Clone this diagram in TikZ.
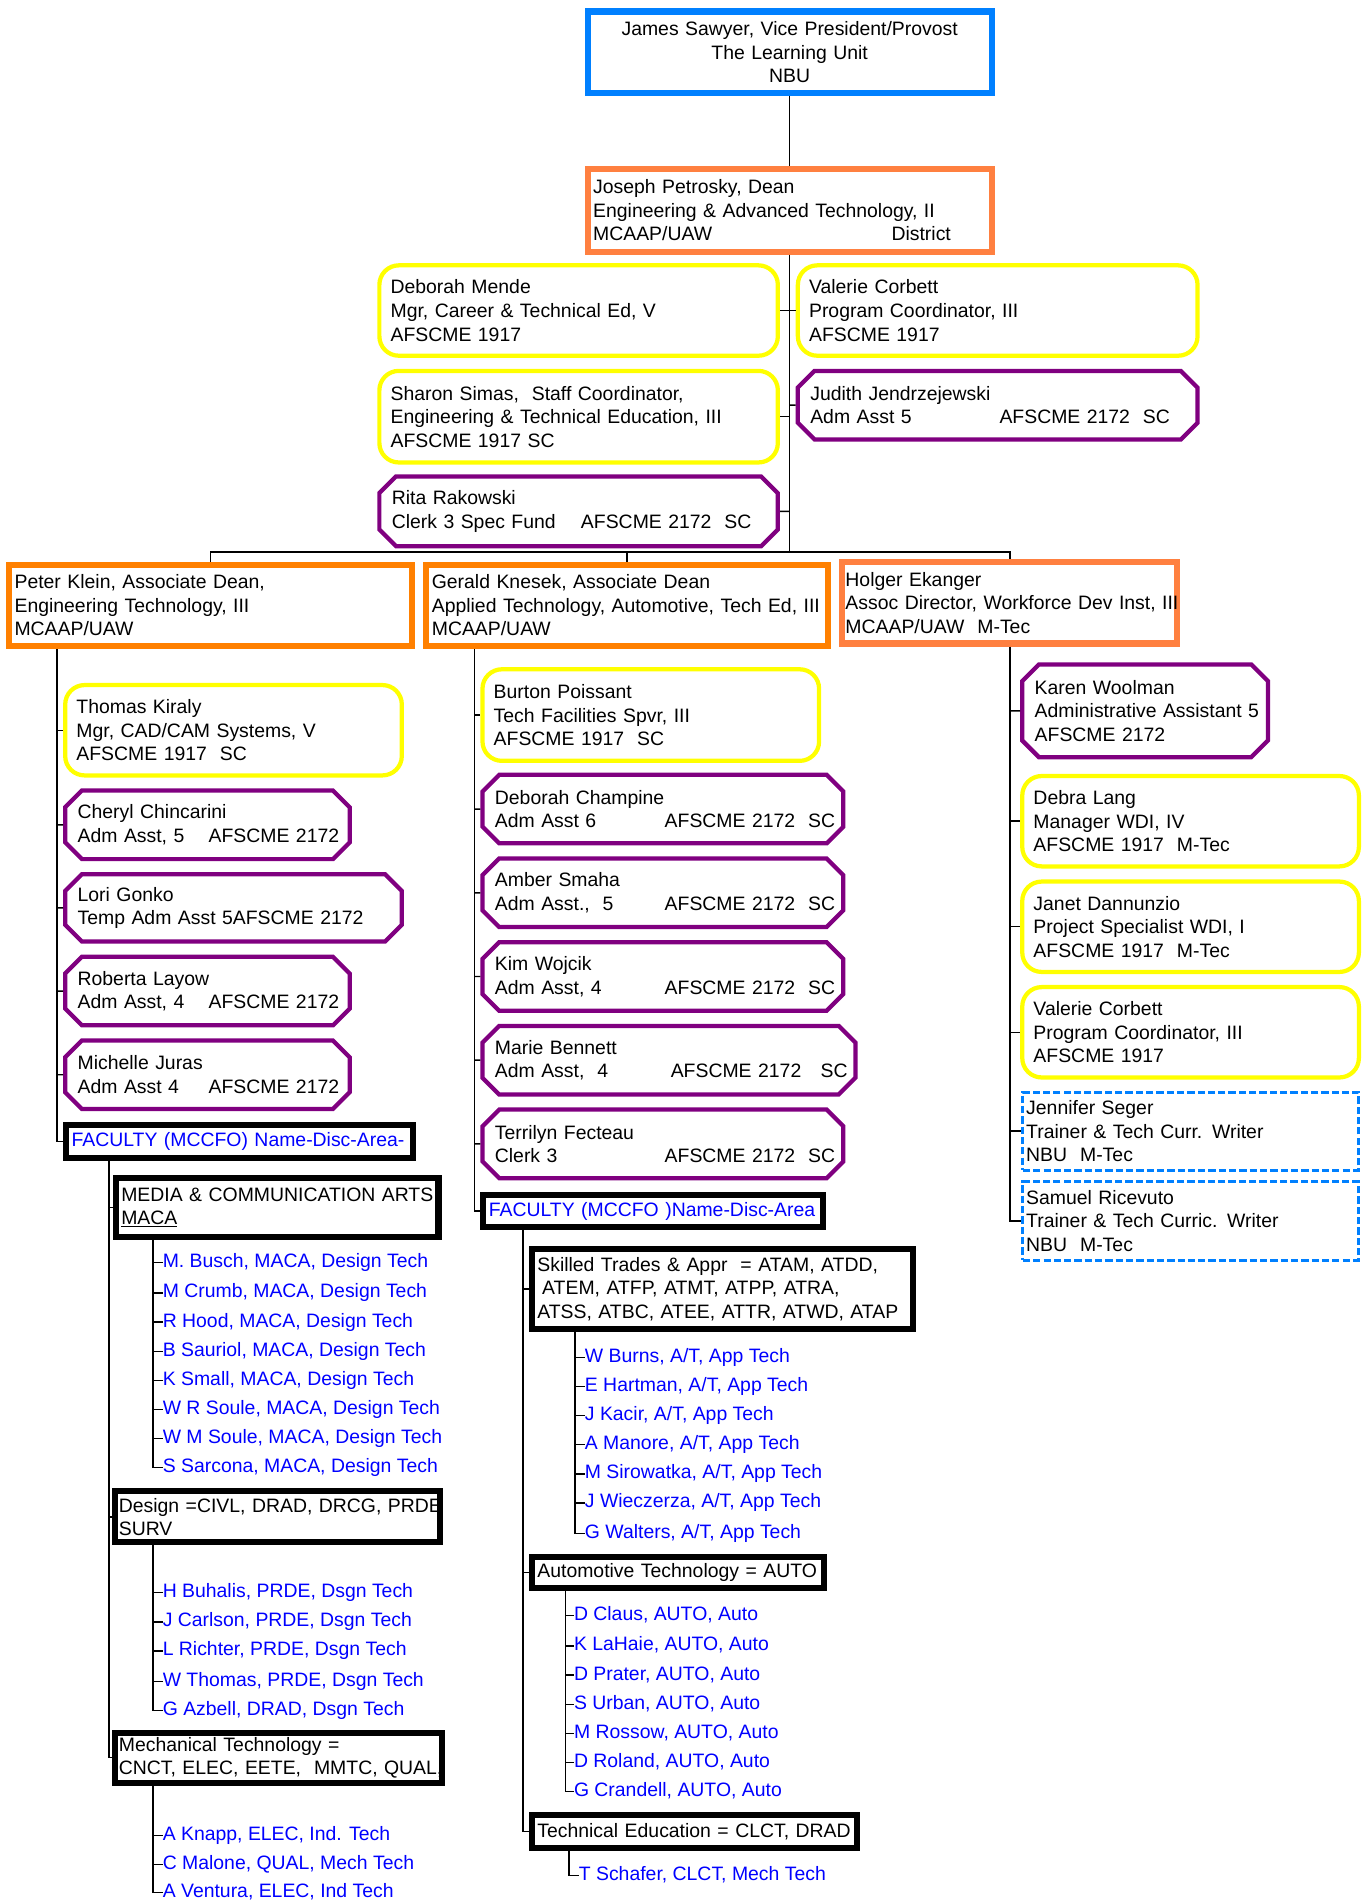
\documentclass[tikz,border=0pt]{standalone}
\usepackage{fontspec}
\setmainfont{Liberation Sans}
\usetikzlibrary{shapes.misc}
\definecolor{vpblue}{RGB}{0,128,255}
\definecolor{deanorange}{RGB}{255,128,64}
\definecolor{assocorange}{RGB}{255,128,0}
\definecolor{staffyellow}{RGB}{255,255,0}
\definecolor{clerkpurple}{RGB}{128,0,128}
\definecolor{facblue}{RGB}{0,0,255}

\begin{document}
\begin{tikzpicture}[x=1pt,y=-1pt,every node/.style={font=\fontsize{16}{19.4}\selectfont}]
\tikzstyle{vpbox}=[draw=vpblue,line width=5pt,align=center,inner sep=0pt]
\tikzstyle{deanbox}=[draw=deanorange,line width=5pt,align=left,inner xsep=4.5pt,inner ysep=0pt]
\tikzstyle{assocbox}=[deanbox,draw=assocorange]
\tikzstyle{mgrbox}=[draw=staffyellow,line width=3.5pt,rounded corners=16pt,align=left,inner xsep=9.25pt,inner ysep=0pt]
\tikzstyle{clerkbox}=[chamfered rectangle,chamfered rectangle xsep=10.25pt,draw=clerkpurple,line width=3.5pt,align=left,inner xsep=0pt,inner ysep=0pt]
\tikzstyle{areabox}=[draw=black,line width=5pt,align=left,inner xsep=4.5pt,inner ysep=0pt]
\tikzstyle{wdibox}=[draw=vpblue,line width=2.5pt,dash pattern=on 6pt off 2.5pt,align=left,inner xsep=2.75pt,inner ysep=0pt]
\tikzstyle{fac}=[text=facblue,inner sep=0pt,anchor=west,text height=11.5pt,text depth=3.5pt]
\tikzstyle{link}=[line width=1.2pt]
\useasboundingbox (0,0) rectangle (1124,1568);

% top of the unit
\node[vpbox,minimum width=333,minimum height=67,text width=333] (sawyer) at (651,43) {James Sawyer, Vice President/Provost\\The Learning Unit\\NBU};
\node[deanbox,minimum width=333,minimum height=68,text width=324] (petrosky) at (651,173.5) {Joseph Petrosky, Dean\\Engineering \& Advanced Technology, II\\\makebox[246pt][l]{MCAAP/UAW}District};
\node[mgrbox,minimum width=328.5,minimum height=74.5,text width=310] (mende) at (477,256) {Deborah Mende\\Mgr, Career \& Technical Ed, V\\AFSCME 1917};
\node[mgrbox,minimum width=329.5,minimum height=74.5,text width=311] (corbett) at (822.5,256) {Valerie Corbett\\Program Coordinator, III\\AFSCME 1917};
\node[mgrbox,minimum width=328.5,minimum height=75.5,text width=310] (simas) at (477,343.5) {Sharon Simas,\ \ Staff Coordinator,\\Engineering \& Technical Education, III\\AFSCME 1917 SC};
\node[clerkbox,minimum width=309,minimum height=56.5,text width=309] (jendrz) at (822.5,334) {Judith Jendrzejewski\\\mbox{\makebox[156pt][l]{Adm Asst 5}AFSCME 2172\ \ SC}};
\node[clerkbox,minimum width=308,minimum height=57.5,text width=308] (rakowski) at (477,421.5) {Rita Rakowski\\\mbox{\makebox[156pt][l]{Clerk 3 Spec Fund}AFSCME 2172\ \ SC}};
\node[assocbox,minimum width=332,minimum height=67,text width=323] (klein) at (173.5,499) {Peter Klein, Associate Dean,\\Engineering Technology, III\\MCAAP/UAW};
\node[assocbox,minimum width=331,minimum height=67,text width=322] (knesek) at (517,499) {Gerald Knesek, Associate Dean\\\mbox{Applied Technology, Automotive, Tech Ed, III}\\MCAAP/UAW};
\node[deanbox,inner xsep=2.5pt,minimum width=276,minimum height=67,text width=271] (ekanger) at (832.5,497) {Holger Ekanger\\\mbox{Assoc Director, Workforce Dev Inst, III}\\MCAAP/UAW\ \ M-Tec};

\coordinate (bar) at (651,455);
\draw[link] (sawyer) -- (petrosky);
\draw[link] (petrosky) -- (bar);
\draw[link] (petrosky.south |- mende) -- (mende);
\draw[link] (petrosky.south |- corbett) -- (corbett);
\draw[link] (petrosky.south |- simas) -- (simas);
\draw[link] (petrosky.south |- jendrz) -- (jendrz);
\draw[link] (petrosky.south |- rakowski) -- (rakowski);
\draw[link] (klein) |- (bar) -| (ekanger);
\draw[link] (knesek) -- (knesek |- bar);

% engineering technology
\node[mgrbox,minimum width=277.5,minimum height=74.5,text width=259] (kiraly) at (192.5,602) {Thomas Kiraly\\Mgr, CAD/CAM Systems, V\\AFSCME 1917\ \ SC};
\node[clerkbox,minimum width=214,minimum height=56.5,text width=214] (chincarini) at (171,680) {Cheryl Chincarini\\\mbox{\makebox[108pt][l]{Adm Asst, 5}AFSCME 2172}};
\node[clerkbox,minimum width=257,minimum height=55.5,text width=257] (gonko) at (192.5,748.5) {Lori Gonko\\\mbox{Temp Adm Asst 5AFSCME 2172}};
\node[clerkbox,minimum width=214,minimum height=56.5,text width=214] (layow) at (171,817) {Roberta Layow\\\mbox{\makebox[108pt][l]{Adm Asst, 4}AFSCME 2172}};
\node[clerkbox,minimum width=214,minimum height=56.5,text width=214] (juras) at (171,886) {Michelle Juras\\\mbox{\makebox[108pt][l]{Adm Asst 4}AFSCME 2172}};
\node[areabox,text=facblue,minimum width=286,minimum height=27,text width=277] (fac1) at (197.5,941) {FACULTY (MCCFO) Name-Disc-Area-};
\node[areabox,minimum width=266,minimum height=48,text width=257] (media) at (228.5,995.5) {\mbox{MEDIA \& COMMUNICATION ARTS}\\\underline{MACA}};
\node[areabox,inner xsep=3.5pt,minimum width=268,minimum height=42,text width=261] (design) at (228.5,1250.5) {\mbox{Design =CIVL, DRAD, DRCG, PRDE}\\SURV};
\node[areabox,inner xsep=3.5pt,minimum width=270,minimum height=41,text width=263] (mech) at (229.5,1449) {Mechanical Technology =\\\mbox{CNCT, ELEC, EETE,\ \ MMTC, QUAL,}};

\coordinate (kleintop) at (47,535);
\draw[link] (kleintop) |- (fac1);
\draw[link] (kleintop |- kiraly) -- (kiraly);
\draw[link] (kleintop |- chincarini) -- (chincarini);
\draw[link] (kleintop |- gonko) -- (gonko);
\draw[link] (kleintop |- layow) -- (layow);
\draw[link] (kleintop |- juras) -- (juras);
\coordinate (fac1top) at (90,957);
\draw[link] (fac1top) |- (mech);
\draw[link] (fac1top |- media) -- (media);
\draw[link] (fac1top |- design) -- (design);

\node[fac] (busch) at (134,1041) {M. Busch, MACA, Design Tech};
\node[fac] (crumb) at (134,1066) {M Crumb, MACA, Design Tech};
\node[fac] (hood) at (134,1090) {R Hood, MACA, Design Tech};
\node[fac] (sauriol) at (134,1114) {B Sauriol, MACA, Design Tech};
\node[fac] (small) at (134,1138) {K Small, MACA, Design Tech};
\node[fac] (rsoule) at (134,1162) {W R Soule, MACA, Design Tech};
\node[fac] (msoule) at (134,1186) {W M Soule, MACA, Design Tech};
\node[fac] (sarcona) at (134,1210) {S Sarcona, MACA, Design Tech};
\coordinate (mediatop) at (126,1022);
\draw[link] (mediatop) |- (sarcona);
\draw[link] (mediatop |- busch) -- (busch);
\draw[link] (mediatop |- crumb) -- (crumb);
\draw[link] (mediatop |- hood) -- (hood);
\draw[link] (mediatop |- sauriol) -- (sauriol);
\draw[link] (mediatop |- small) -- (small);
\draw[link] (mediatop |- rsoule) -- (rsoule);
\draw[link] (mediatop |- msoule) -- (msoule);

\node[fac] (buhalis) at (134,1313) {H Buhalis, PRDE, Dsgn Tech};
\node[fac] (carlson) at (134,1337) {J Carlson, PRDE, Dsgn Tech};
\node[fac] (richter) at (134,1361) {L Richter, PRDE, Dsgn Tech};
\node[fac] (thomas) at (134,1386) {W Thomas, PRDE, Dsgn Tech};
\node[fac] (azbell) at (134,1410) {G Azbell, DRAD, Dsgn Tech};
\coordinate (designtop) at (126,1274);
\draw[link] (designtop) |- (azbell);
\draw[link] (designtop |- buhalis) -- (buhalis);
\draw[link] (designtop |- carlson) -- (carlson);
\draw[link] (designtop |- richter) -- (richter);
\draw[link] (designtop |- thomas) -- (thomas);

\node[fac] (knapp) at (134,1513) {A Knapp, ELEC, Ind. Tech};
\node[fac] (malone) at (134,1537) {C Malone, QUAL, Mech Tech};
\node[fac] (ventura) at (134,1560) {A Ventura, ELEC, Ind Tech};
\coordinate (mechtop) at (126,1472);
\draw[link] (mechtop) |- (ventura);
\draw[link] (mechtop |- knapp) -- (knapp);
\draw[link] (mechtop |- malone) -- (malone);

% applied technology
\node[mgrbox,minimum width=277.5,minimum height=75.5,text width=259] (poissant) at (536.5,589.5) {Burton Poissant\\Tech Facilities Spvr, III\\AFSCME 1917\ \ SC};
\node[clerkbox,minimum width=277,minimum height=56.5,text width=277] (champine) at (546.5,667) {Deborah Champine\\\mbox{\makebox[140pt][l]{Adm Asst 6}AFSCME 2172\ \ SC}};
\node[clerkbox,minimum width=277,minimum height=56.5,text width=277] (smaha) at (546.5,736) {Amber Smaha\\\mbox{\makebox[140pt][l]{Adm Asst.,\ \ 5}AFSCME 2172\ \ SC}};
\node[clerkbox,minimum width=277,minimum height=56.5,text width=277] (wojcik) at (546.5,805) {Kim Wojcik\\\mbox{\makebox[140pt][l]{Adm Asst, 4}AFSCME 2172\ \ SC}};
\node[clerkbox,minimum width=287,minimum height=56.5,text width=287] (bennett) at (551.5,874) {Marie Bennett\\\mbox{\makebox[145pt][l]{Adm Asst,\ \ 4}AFSCME 2172\ \ \ SC}};
\node[clerkbox,minimum width=277,minimum height=56.5,text width=277] (fecteau) at (546.5,943) {Terrilyn Fecteau\\\mbox{\makebox[140pt][l]{Clerk 3}AFSCME 2172\ \ SC}};
\node[areabox,text=facblue,minimum width=280,minimum height=26,text width=271] (fac2) at (538.5,998.5) {FACULTY (MCCFO )Name-Disc-Area};
\node[areabox,minimum width=314,minimum height=66,text width=305] (trades) at (595.5,1062.5) {Skilled Trades \& Appr\ \ = ATAM, ATDD,\\\hspace*{4pt}ATEM, ATFP, ATMT, ATPP, ATRA,\\\mbox{ATSS, ATBC, ATEE, ATTR, ATWD, ATAP}};
\node[areabox,minimum width=241,minimum height=26,text width=232] (auto) at (559,1296.5) {\mbox{Automotive Technology = AUTO}};
\node[areabox,minimum width=268,minimum height=27,text width=259] (teched) at (572.5,1510) {\mbox{Technical Education = CLCT, DRAD}};

\coordinate (knesektop) at (391,535);
\draw[link] (knesektop) |- (fac2);
\draw[link] (knesektop |- poissant) -- (poissant);
\draw[link] (knesektop |- champine) -- (champine);
\draw[link] (knesektop |- smaha) -- (smaha);
\draw[link] (knesektop |- wojcik) -- (wojcik);
\draw[link] (knesektop |- bennett) -- (bennett);
\draw[link] (knesektop |- fecteau) -- (fecteau);
\coordinate (fac2top) at (431,1014);
\draw[link] (fac2top) |- (teched);
\draw[link] (fac2top |- trades) -- (trades);
\draw[link] (fac2top |- auto) -- (auto);

\node[fac] (burns) at (482,1119) {W Burns, A/T, App Tech};
\node[fac] (hartman) at (482,1143) {E Hartman, A/T, App Tech};
\node[fac] (kacir) at (482,1167) {J Kacir, A/T, App Tech};
\node[fac] (manore) at (482,1191) {A Manore, A/T, App Tech};
\node[fac] (sirowatka) at (482,1215) {M Sirowatka, A/T, App Tech};
\node[fac] (wieczerza) at (482,1239) {J Wieczerza, A/T, App Tech};
\node[fac] (walters) at (482,1264) {G Walters, A/T, App Tech};
\coordinate (tradestop) at (474,1098);
\draw[link] (tradestop) |- (walters);
\draw[link] (tradestop |- burns) -- (burns);
\draw[link] (tradestop |- hartman) -- (hartman);
\draw[link] (tradestop |- kacir) -- (kacir);
\draw[link] (tradestop |- manore) -- (manore);
\draw[link] (tradestop |- sirowatka) -- (sirowatka);
\draw[link] (tradestop |- wieczerza) -- (wieczerza);

\node[fac] (claus) at (473,1332) {D Claus, AUTO, Auto};
\node[fac] (lahaie) at (473,1357) {K LaHaie, AUTO, Auto};
\node[fac] (prater) at (473,1381) {D Prater, AUTO, Auto};
\node[fac] (urban) at (473,1405) {S Urban, AUTO, Auto};
\node[fac] (rossow) at (473,1429) {M Rossow, AUTO, Auto};
\node[fac] (roland) at (473,1453) {D Roland, AUTO, Auto};
\node[fac] (crandell) at (473,1477) {G Crandell, AUTO, Auto};
\coordinate (autotop) at (466,1312);
\draw[link] (autotop) |- (crandell);
\draw[link] (autotop |- claus) -- (claus);
\draw[link] (autotop |- lahaie) -- (lahaie);
\draw[link] (autotop |- prater) -- (prater);
\draw[link] (autotop |- urban) -- (urban);
\draw[link] (autotop |- rossow) -- (rossow);
\draw[link] (autotop |- roland) -- (roland);

\node[fac] (schafer) at (477,1546) {T Schafer, CLCT, Mech Tech};
\coordinate (techedtop) at (469,1526);
\draw[link] (techedtop) |- (schafer);

% workforce development
\node[clerkbox,minimum width=182,minimum height=76.5,text width=182] (woolman) at (944,586) {Karen Woolman\\\mbox{Administrative Assistant 5}\\AFSCME 2172};
\node[mgrbox,minimum width=277.5,minimum height=74.5,text width=259] (lang) at (981.5,677) {Debra Lang\\Manager WDI, IV\\AFSCME 1917\ \ M-Tec};
\node[mgrbox,minimum width=277.5,minimum height=74.5,text width=259] (dannunzio) at (981.5,764) {Janet Dannunzio\\Project Specialist WDI, I\\AFSCME 1917\ \ M-Tec};
\node[mgrbox,minimum width=277.5,minimum height=74.5,text width=259] (corbett2) at (981.5,851) {Valerie Corbett\\Program Coordinator, III\\AFSCME 1917};
\node[wdibox,minimum width=276.5,minimum height=64.5,text width=271] (seger) at (981.5,932.5) {Jennifer Seger\\Trainer \& Tech Curr. Writer\\NBU\ \ M-Tec};
\node[wdibox,minimum width=276.5,minimum height=64.5,text width=271] (ricevuto) at (981.5,1006.5) {Samuel Ricevuto\\Trainer \& Tech Curric. Writer\\NBU\ \ M-Tec};

\draw[link] (ekanger) |- (ricevuto);
\draw[link] (ekanger |- woolman) -- (woolman);
\draw[link] (ekanger |- lang) -- (lang);
\draw[link] (ekanger |- dannunzio) -- (dannunzio);
\draw[link] (ekanger |- corbett2) -- (corbett2);
\draw[link] (ekanger |- seger) -- (seger);
\end{tikzpicture}
\end{document}
